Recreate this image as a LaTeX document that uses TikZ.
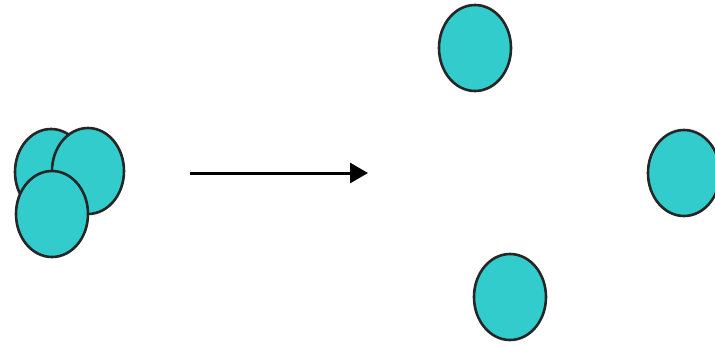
\documentclass[tikz,border=0pt]{standalone}
\usepackage{tikz}
\usetikzlibrary{arrows.meta,shapes.geometric}

\definecolor{drop}{HTML}{33CCCC}

\begin{document}
\begin{tikzpicture}[x=1pt,y=-1pt,
  blob/.style={draw=black!85,line width=2.6pt,fill=drop,ellipse,inner sep=0pt,minimum width=72pt,minimum height=86pt},
  flow/.style={-{Triangle[length=18pt,width=20pt]},line width=3pt}
]
  \useasboundingbox (0,0) rectangle (715,346);

  % cluster before
  \node[blob] (left) at (51,172) {};
  \node[blob] (right) at (88,171) {};
  \node[blob] (low) at (52,214) {};

  % spread after
  \node[blob] (top) at (475,48) {};
  \node[blob] (far) at (684,173) {};
  \node[blob] (bottom) at (510,297) {};

  \coordinate (start) at (190,173);
  \coordinate (stop) at (368,173);
  \draw[flow] (start) -- (stop);
\end{tikzpicture}
\end{document}
